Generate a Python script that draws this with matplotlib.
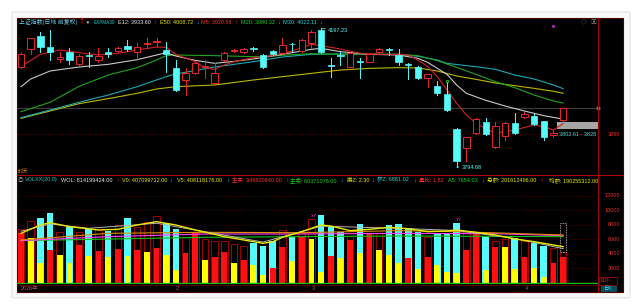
import matplotlib
matplotlib.use('Agg')
import matplotlib.pyplot as plt
from matplotlib.patches import Rectangle, FancyBboxPatch
from matplotlib.lines import Line2D
import matplotlib.transforms as mtrans

plt.rcParams['font.family'] = ['Liberation Sans', 'Noto Sans CJK SC', 'DejaVu Sans']

# ---------------- data ----------------
days = list(range(1, 58))
opens = [4085.9, 4136.2, 4175.8, 4142.0, 4108.1, 4127.5, 4092.6, 4119.7, 4105.2, 4129.4,
         4132.3, 4146.8, 4127.5, 4151.6, 4158.4, 4134.2, 4081.0, 4047.2, 4066.5, 4083.9,
         4037.5, 4105.2, 4130.4, 4127.5, 4140.0, 4119.7, 4131.3, 4124.6, 4152.6, 4132.3,
         4153.6, 4192.3, 4089.7, 4120.7, 4085.9, 4101.3, 4100.4, 4127.5, 4137.1, 4119.7,
         4093.6, 4085.9, 4054.0, 4030.7, 4005.6, 3904.0, 3848.6, 3892.4, 3924.3, 3851.8,
         3884.7, 3923.4, 3938.8, 3942.7, 3928.2, 3887.6, 3931.1]
highs = [4127.5, 4170.0, 4187.4, 4192.0, 4129.4, 4139.1, 4121.7, 4129.4, 4139.1, 4139.1,
         4143.9, 4163.3, 4153.6, 4170.0, 4170.0, 4156.5, 4105.2, 4081.0, 4100.4, 4105.2,
         4095.5, 4127.5, 4136.2, 4141.0, 4143.9, 4122.6, 4134.2, 4170.0, 4154.5, 4166.2,
         4192.3, 4197.23, 4110.1, 4129.4, 4127.5, 4110.1, 4124.6, 4139.1, 4141.0, 4137.1,
         4097.5, 4088.8, 4065.6, 4044.3, 4042.3, 3906.9, 3882.7, 3935.9, 3937.9, 3924.3,
         3926.3, 3950.4, 3953.3, 3952.4, 3928.2, 3902.1, 3966.9]
lows = [4083.0, 4121.7, 4129.4, 4105.2, 4100.4, 4093.6, 4090.7, 4085.9, 4100.4, 4114.9,
        4129.4, 4131.3, 4105.2, 4139.1, 4142.0, 4071.4, 4016.2, 4003.6, 4063.6, 4052.0,
        4032.7, 4102.3, 4127.5, 4125.5, 4131.3, 4083.0, 4119.7, 4123.6, 4131.3, 4129.4,
        4139.1, 4124.6, 4056.9, 4090.7, 4084.9, 4054.0, 4099.4, 4121.7, 4119.7, 4090.7,
        4050.1, 4050.1, 4027.8, 4003.6, 3957.2, 3794.68, 3813.1, 3890.5, 3887.6, 3848.6,
        3873.1, 3890.5, 3935.9, 3916.6, 3873.1, 3880.8, 3928.2]
closes = [4121.7, 4168.1, 4142.0, 4129.4, 4114.9, 4105.2, 4116.8, 4115.9, 4117.8, 4122.6,
          4141.0, 4136.2, 4142.0, 4154.5, 4161.3, 4121.7, 4018.2, 4066.5, 4095.5, 4087.8,
          4066.5, 4124.6, 4133.3, 4136.2, 4138.1, 4085.9, 4121.7, 4148.7, 4150.7, 4163.3,
          4185.5, 4129.4, 4086.8, 4117.8, 4124.6, 4099.4, 4122.6, 4136.2, 4134.2, 4098.4,
          4090.7, 4052.0, 4063.6, 4008.5, 3960.1, 3813.1, 3880.8, 3933.0, 3890.5, 3913.7,
          3923.4, 3892.4, 3948.5, 3919.5, 3880.8, 3893.4, 3964.9]

m5_idx = [1, 3, 5, 7, 9, 11, 13, 15, 16, 17, 19, 20, 21, 22, 23, 25, 27, 29, 31, 32, 34, 36,
          38, 40, 41, 42, 43, 44, 45, 46, 47, 48, 50, 52, 54, 55, 56, 57]
m5 = [4085.9, 4121.7, 4134.2, 4126.5, 4119.7, 4124.6, 4134.2, 4142.9, 4142.0, 4121.7, 4100.4,
      4083.0, 4078.1, 4090.7, 4100.4, 4112.0, 4117.8, 4131.3, 4150.7, 4146.8, 4137.1, 4124.6,
      4121.7, 4121.7, 4119.7, 4105.2, 4085.9, 4056.8, 4018.2, 3979.5, 3945.6, 3921.4, 3892.4,
      3902.1, 3916.6, 3911.8, 3902.1, 3920.6]
e12_idx = [1, 2, 4, 7, 10, 13, 15, 16, 17, 19, 21, 23, 25, 28, 31, 32, 34, 37, 40, 42, 43, 44,
           45, 46, 47, 49, 51, 53, 55, 57]
e12 = [4027.8, 4050.1, 4073.3, 4084.9, 4092.6, 4106.2, 4119.7, 4126.5, 4116.8, 4104.2, 4095.5,
       4101.3, 4108.1, 4121.7, 4136.2, 4139.1, 4129.4, 4121.7, 4119.7, 4110.1, 4098.4, 4081.0,
       4063.6, 4032.7, 4008.5, 3988.2, 3971.7, 3957.2, 3943.7, 3933.6]
m20_idx = [1, 4, 7, 10, 13, 15, 16, 17, 21, 25, 27, 29, 31, 34, 37, 40, 42, 44, 46, 48, 50, 52,
           54, 56, 57]
m20 = [3955.3, 3982.4, 4028.8, 4061.7, 4083.0, 4105.2, 4117.8, 4119.7, 4117.8, 4114.9, 4116.8,
       4120.7, 4123.6, 4121.7, 4121.7, 4121.7, 4117.8, 4103.3, 4083.9, 4063.6, 4042.3, 4024.9,
       4003.6, 3986.2, 3980.3]
m30_idx = [1, 4, 7, 10, 13, 15, 16, 17, 21, 25, 28, 31, 34, 37, 40, 42, 44, 45, 47, 48, 50, 52,
           54, 56, 57]
m30 = [3937.9, 3960.1, 3982.4, 4003.6, 4027.8, 4047.2, 4056.8, 4064.6, 4084.9, 4100.4, 4113.9,
       4121.7, 4122.6, 4121.7, 4121.7, 4115.9, 4105.2, 4095.5, 4088.8, 4085.9, 4078.1, 4061.7,
       4050.1, 4032.7, 4022.1]
e50_idx = [1, 4, 7, 10, 13, 15, 17, 21, 25, 28, 31, 34, 37, 40, 42, 44, 46, 48, 50, 52, 54, 56, 57]
e50 = [3935.9, 3957.2, 3978.5, 3993.0, 4008.5, 4021.1, 4027.8, 4032.7, 4047.2, 4056.8, 4066.5,
       4076.2, 4081.0, 4083.0, 4082.0, 4073.3, 4058.8, 4049.1, 4038.5, 4030.7, 4023.0, 4014.3,
       4008.7]

vol_total = [7360, 8510, 8880, 9570, 6950, 7730, 6950, 7410, 7410, 7180,
             7960, 8880, 7730, 8330, 9200, 8190, 7410, 6350, 6810, 6000,
             5800, 5800, 5340, 5110, 5430, 5110, 5750, 7270, 6350, 6900,
             8740, 9340, 7730, 6950, 6440, 8050, 6900, 6900, 7960, 8050,
             7500, 6950, 6260, 6810, 6810, 8190, 6810, 6950, 6260, 5800,
             5980, 6120, 5800, 5520, 5060, 4740, 4190]
vol_inner = [6810, 6120, 2670, 4510, 3820, 2670, 5200, 3680, 4370, 3500,
             4600, 3680, 4510, 4280, 4830, 3820, 1750, 4050, 6810, 3080,
             3540, 4280, 2670, 3130, 2440, 1060, 2070, 4970, 2990, 6260,
             5980, 1520, 3680, 3450, 5890, 4050, 6900, 4510, 3820, 2760,
             3450, 1890, 3590, 2440, 1520, 1290, 4510, 6950, 1750, 4970,
             4880, 1890, 3590, 2070, 830, 2760, 3500]
vol_inner_kind = list("ryyryyryry" "ryryryyrry" "rryryyrryr"
                      "yyryryryyy" "ryryyyrryr" "yyryyrr")
vol_forecast = 8190

vy_idx = [1, 3, 4, 6, 9, 11, 13, 15, 17, 19, 21, 22, 24, 26, 27, 28, 30, 32, 33, 35, 37, 39,
          41, 43, 45, 46, 48, 50, 52, 54, 56, 57]
vy = [6810, 7960, 8280, 7730, 7270, 7360, 7960, 8420, 7960, 7270, 6670, 6350, 5890, 5430, 5660,
      6260, 7040, 7960, 7820, 7180, 7360, 7640, 7450, 7040, 7130, 7270, 6950, 6580, 6030, 5660,
      5200, 4970]
vg_idx = [1, 4, 8, 15, 21, 26, 32, 40, 46, 52, 57]
vg = [7100, 8100, 7500, 8200, 6800, 5600, 7800, 7500, 7200, 6100, 4700]
vo_idx = [1, 10, 20, 30, 40, 46, 57]
vo = [5890, 6810, 6950, 6900, 7180, 7040, 6580]
vm_idx = [1, 10, 20, 30, 40, 50, 57]
vm = [5800, 6350, 6720, 6720, 6810, 6760, 6490]
vgr_idx = [1, 20, 40, 57]
vgr = [5800, 6260, 6440, 6350]

month_idx = [1, 17, 31, 53]
month_labels = ['2026年', '2', '3', '4']
vol_ticks = [2000, 4000, 6000, 8000, 10000, 12000]
price_label = 3890
band_lo, band_hi = 3904, 3926
yy_idx = [31, 46]

# ---------------- layout helpers ----------------
W, H = 642, 308
fig = plt.figure(figsize=(W / 100, H / 100), dpi=100)
fig.patch.set_facecolor('white')


def fx(x):
    return x / W


def fy(y):
    return 1 - y / H


def box(x0, y0, x1, y1):
    return [fx(x0), fy(y1), fx(x1) - fx(x0), fy(y0) - fy(y1)]


card = FancyBboxPatch((fx(12), fy(298)), fx(630) - fx(12), fy(12) - fy(298),
                      boxstyle='round,pad=0,rounding_size=0.004', transform=fig.transFigure,
                      facecolor='#f9f9f9', edgecolor='#e2e2e2', lw=0.8, zorder=-3)
fig.add_artist(card)
bg = Rectangle((fx(17), fy(292)), fx(623) - fx(17), fy(18) - fy(292), transform=fig.transFigure,
               facecolor='black', edgecolor='#4a0000', lw=0.8, zorder=-2)
fig.add_artist(bg)

UP = '#e8262a'
DN = '#54fcfc'
XL = (0.587, 60.6)

# ---------------- price panel ----------------
ax = fig.add_axes(box(17, 18, 598, 172))
ax.set_facecolor('none')
ax.set_xlim(*XL)
ax.set_ylim(3780.2, 4227.1)
ax.axis('off')

ax.axhline(closes[-1], color='#3c3c3c', lw=0.8, zorder=1)
ax.plot([XL[1]], [closes[-1]], 'o', ms=2, color='#707070', clip_on=False, zorder=1)
ax.axhline(price_label, color='#8a0000', lw=0.6, ls=(0, (1, 2)), zorder=1)
ax.add_patch(Rectangle((56.37, band_lo), XL[1] - 56.37, band_hi - band_lo,
                       facecolor='#a6a6a6', edgecolor='none', zorder=2))

for idx, vals, col in [(e50_idx, e50, '#b8b800'), (m30_idx, m30, '#1aa7b4'),
                       (m20_idx, m20, '#1ea51e'), (e12_idx, e12, '#c8c8c8'),
                       (m5_idx, m5, '#d02020')]:
    ax.plot(idx, vals, color=col, lw=0.8, zorder=3)

bw = 0.66
for d, o, h, l, c in zip(days, opens, highs, lows, closes):
    if c >= o:
        ax.plot([d, d], [max(o, c), h], color=UP, lw=0.7, zorder=4)
        ax.plot([d, d], [l, min(o, c)], color=UP, lw=0.7, zorder=4)
        ax.add_patch(Rectangle((d - bw / 2, o), bw, max(c - o, 0.8), facecolor='black',
                               edgecolor=UP, lw=0.7, zorder=5))
    else:
        ax.plot([d, d], [l, h], color=DN, lw=0.7, zorder=4)
        ax.add_patch(Rectangle((d - bw / 2, c), bw, o - c, facecolor=DN,
                               edgecolor=DN, lw=0.5, zorder=5))

ax.plot([45], [4044], marker='s', ms=2, mfc='none', mec='#20c020', mew=0.6, zorder=6)

imax = highs.index(max(highs))
imin = lows.index(min(lows))
ax.annotate(f'{highs[imax]:.2f}', xy=(days[imax], highs[imax]), xytext=(7, -2),
            textcoords='offset pixels', color=DN, fontsize=4, va='center', ha='left',
            arrowprops=dict(arrowstyle='-', color=DN, lw=0.5, shrinkA=0, shrinkB=0))
ax.annotate(f'{lows[imin]:.2f}', xy=(days[imin], lows[imin]), xytext=(5, 0),
            textcoords='offset pixels', color=DN, fontsize=4, va='center', ha='left',
            arrowprops=dict(arrowstyle='-', color=DN, lw=0.5, shrinkA=0, shrinkB=0))
ax.text(56.6, price_label, '3802.61 - 3828', color='#40d8d8', fontsize=4, va='center', ha='left',
        zorder=7)
ax.text(1.038, price_label, f'{price_label}', transform=ax.get_yaxis_transform(), color='#e03030',
        fontsize=4, va='center', ha='right', clip_on=False)

# ---------------- volume panel ----------------
av = fig.add_axes(box(17, 176, 598, 284))
av.set_facecolor('none')
av.set_xlim(*XL)
av.set_ylim(-179, 14717)
av.axis('off')

for tk in vol_ticks:
    av.axhline(tk, color='#6a0000', lw=0.5, ls=(0, (1, 2)), zorder=1)
    av.text(1.038, tk, f'{tk}', transform=av.get_yaxis_transform(), color='#e03030',
            fontsize=4, va='center', ha='right', clip_on=False)

vw = 0.68
inner_col = {'r': '#ff1010', 'y': '#ffff00'}
for d, o, c, tv, iv, k in zip(days, opens, closes, vol_total, vol_inner, vol_inner_kind):
    if c >= o:
        av.add_patch(Rectangle((d - vw / 2, 0), vw, tv, facecolor='black', edgecolor='#a00000',
                               lw=0.7, zorder=2))
    else:
        av.add_patch(Rectangle((d - vw / 2, 0), vw, tv, facecolor=DN, edgecolor='none', zorder=2))
    av.add_patch(Rectangle((d - vw / 2 + 0.04, 0), vw - 0.08, iv, facecolor=inner_col[k],
                           edgecolor='none', zorder=3))
av.add_patch(Rectangle((days[-1] - vw / 2, vol_total[-1]), vw, vol_forecast - vol_total[-1],
                       facecolor='none', edgecolor='#9a9a9a', lw=0.6, ls=(0, (2, 1)), zorder=2))

for idx, vals, col, lw in [(vgr_idx, vgr, '#10c010', 0.8), (vm_idx, vm, '#ff40ff', 0.8),
                           (vo_idx, vo, '#e08a00', 0.8), (vg_idx, vg, '#b4b4b4', 0.7),
                           (vy_idx, vy, '#e8e800', 1.0)]:
    av.plot(idx, vals, color=col, lw=lw, zorder=4)
av.axhline(0, color='#10c010', lw=1.0, zorder=5)

for i in yy_idx:
    av.text(i + 0.2, vol_total[i - 1] + 250, 'YY', color='#ff30ff', fontsize=3.2,
            ha='center', va='bottom', zorder=6)

# date row
tdate = mtrans.blended_transform_factory(av.transData, fig.transFigure)
for i, lab in zip(month_idx, month_labels):
    fig.text(i, fy(289), lab, transform=tdate, color='#b05050', fontsize=4, ha='left',
             va='center')

# ---------------- frame lines ----------------
for (x0, y0, x1, y1, c) in [(17, 175, 623, 175, '#b00000'), (598, 18, 598, 292, '#a00000'),
                             (17, 284.5, 598, 284.5, '#5a0000')]:
    fig.add_artist(Line2D([fx(x0), fx(x1)], [fy(y0), fy(y1)], color=c, lw=0.8,
                          transform=fig.transFigure))

# ---------------- titles ----------------
def t(x, y, s, c, fs=4.0):
    fig.text(fx(x), fy(y), s, color=c, fontsize=fs, ha='left', va='center')


yt = 22
t(19, yt, '上证指数(日线 前复权)', '#6fd0ee', 4.2)
t(79.5, yt, '†', '#ff2020', 5.5)
t(86, yt, '●', '#9a9a9a', 4.2)
t(94, yt, 'EXPMA30', '#20c8c8', 3.3)
t(118, yt, 'E12: 3933.60', '#e6e6e6'); t(153, yt, '↑', '#ff3030')
t(160, yt, 'E50: 4008.72', '#e8e800'); t(196, yt, '↓', '#30d0d0')
t(201, yt, 'M5: 3920.56', '#ff3030'); t(234, yt, '↑', '#ff3030')
t(241, yt, 'M20: 3980.32', '#20d020'); t(277, yt, '↓', '#30d0d0')
t(283, yt, 'M30: 4022.11', '#30d0d0'); t(319, yt, '↓', '#30d0d0')
t(581, yt, '◇', '#8a8a8a', 4.2)
t(590, yt, '▣', '#8a8a8a', 4.2)
fig.add_artist(Line2D([fx(553)], [fy(26)], marker='o', ms=1.2, color='#c020c0',
                      transform=fig.transFigure))
t(17.5, 171, '时天', '#e08000', 3.8)

yv = 180
t(18, yv, '◎', '#9a9a9a', 4)
t(25, yv, 'VOLXX(20,0)', '#20c8c8')
t(61, yv, 'WOL: 814199424.00', '#e6e6e6'); t(116, yv, '↑', '#ff3030')
t(122, yv, 'V0: 407099712.00', '#e8e800'); t(169, yv, '↓', '#30d0d0')
t(177, yv, 'V5: 408118176.00', '#e8e800'); t(226, yv, '↓', '#30d0d0')
t(232, yv, '主买: 346820640.00', '#ff3030'); t(285, yv, '↑', '#ff3030')
t(290, yv, '主卖: 60371076.00', '#20d020'); t(340, yv, '↓', '#30d0d0')
t(347, yv, '换Z: 2.30', '#e8e800'); t(371, yv, '↓', '#30d0d0')
t(377, yv, '额Z: 6881.02', '#30d0d0'); t(413, yv, '↓', '#30d0d0')
t(419, yv, '量比: 1.52', '#ff3030')
t(448, yv, 'A5: 7654.03', '#20d020'); t(481, yv, '↓', '#30d0d0')
t(487, yv, '总额: 201612496.00', '#e8e800'); t(540, yv, '↑', '#ff3030')
t(549, yv, '均额: 190255312.00', '#e8e800')

# right bottom labels
fig.add_artist(Rectangle((fx(598.5), fy(285)), fx(617) - fx(598.5), fy(277) - fy(285),
                         transform=fig.transFigure, facecolor='none', edgecolor='#a00000', lw=0.6))
t(599.5, 281, 'X10⁵', '#c04040', 3.6)
fig.add_artist(Rectangle((fx(601), fy(292)), fx(617) - fx(601), fy(286) - fy(292),
                         transform=fig.transFigure, facecolor='#0a4a5a', edgecolor='none'))
t(603.5, 289, '日K', '#40e0f0', 3.8)

fig.savefig('out.png', dpi=100, facecolor=fig.get_facecolor())
